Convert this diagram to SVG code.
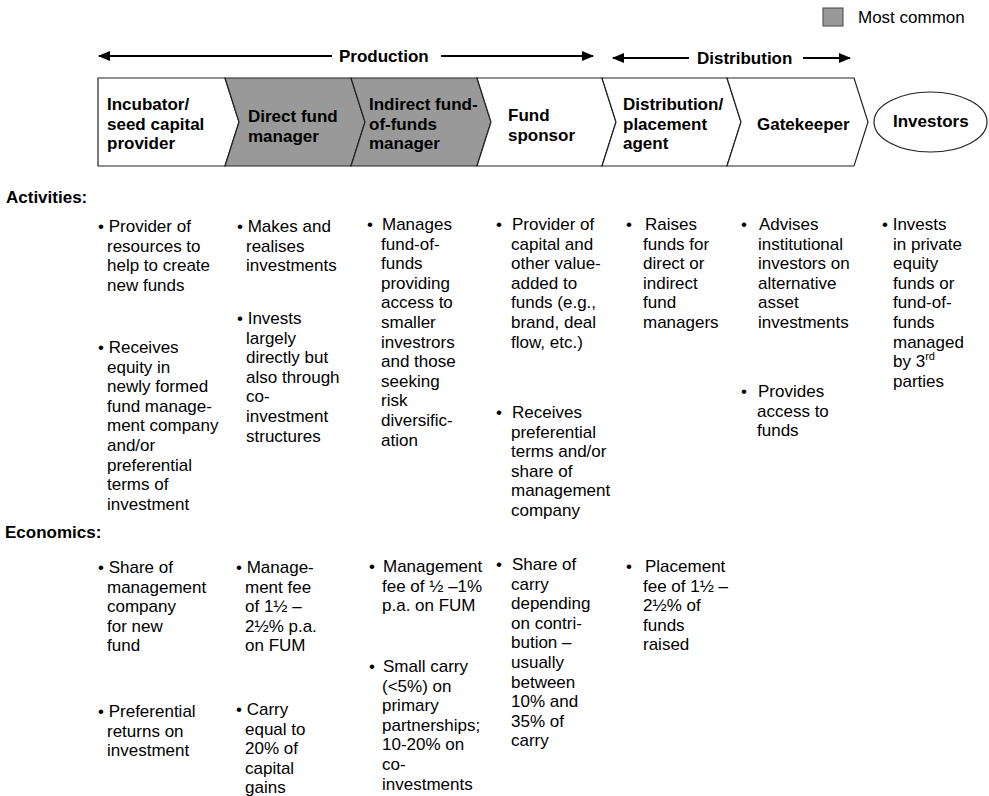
<svg xmlns="http://www.w3.org/2000/svg" width="989" height="796" viewBox="0 0 989 796">
  <style>
    .t { font-family: "Liberation Sans", Arial, sans-serif; font-size: 17px; fill: #000; }
    .b { font-weight: bold; }
    .sup { font-size: 11px; }
    .stage { stroke: #222; stroke-width: 1.2; stroke-linejoin: miter; }
    .plain { fill: #fff; }
    .common { fill: #999; }
    .axis { stroke: #000; stroke-width: 2; fill: none; }
  </style>
  <defs>
    <marker id="head" viewBox="0 0 12 10" refX="11" refY="5" markerWidth="12" markerHeight="10" markerUnits="userSpaceOnUse" orient="auto-start-reverse">
      <path d="M0,0 L12,5 L0,10 Z" fill="#000"/>
    </marker>
  </defs>

  <rect width="989" height="796" fill="#fff"/>

  <!-- legend -->
  <g id="legend">
    <rect x="823" y="8" width="20" height="18" class="common" stroke="#444" stroke-width="1"/>
    <text class="t" x="858" y="23">Most common</text>
  </g>

  <!-- phase arrows -->
  <g id="connectors">
    <line class="axis" x1="99" y1="56" x2="332" y2="56" marker-start="url(#head)"/>
    <line class="axis" x1="441" y1="56" x2="593" y2="56" marker-end="url(#head)"/>
    <line class="axis" x1="613" y1="58" x2="689" y2="58" marker-start="url(#head)"/>
    <line class="axis" x1="803" y1="58" x2="850" y2="58" marker-end="url(#head)"/>
  </g>
  <text class="t b" x="339" y="62">Production</text>
  <text class="t b" x="697" y="64">Distribution</text>

  <!-- value chain stages -->
  <g id="incubator">
    <path class="stage plain" d="M98,78 L225,78 L239,122 L225,166 L98,166 Z"/>
    <text class="t b"><tspan x="107" y="110">Incubator/</tspan><tspan x="107" y="129.5">seed capital</tspan><tspan x="107" y="149">provider</tspan></text>
  </g>
  <g id="direct-fund-manager">
    <path class="stage common" d="M225,78 L351,78 L365,122 L351,166 L225,166 L239,122 Z"/>
    <text class="t b"><tspan x="248" y="122">Direct fund</tspan><tspan x="248" y="141.5">manager</tspan></text>
  </g>
  <g id="indirect-fof-manager">
    <path class="stage common" d="M351,78 L477,78 L491,122 L477,166 L351,166 L365,122 Z"/>
    <text class="t b"><tspan x="369" y="110">Indirect fund-</tspan><tspan x="369" y="129.5">of-funds</tspan><tspan x="369" y="149">manager</tspan></text>
  </g>
  <g id="fund-sponsor">
    <path class="stage plain" d="M477,78 L602,78 L616,122 L602,166 L477,166 L491,122 Z"/>
    <text class="t b"><tspan x="508" y="121">Fund</tspan><tspan x="508" y="140.5">sponsor</tspan></text>
  </g>
  <g id="placement-agent">
    <path class="stage plain" d="M602,78 L727,78 L741,122 L727,166 L602,166 L616,122 Z"/>
    <text class="t b"><tspan x="623" y="110">Distribution/</tspan><tspan x="623" y="129.5">placement</tspan><tspan x="623" y="149">agent</tspan></text>
  </g>
  <g id="gatekeeper">
    <path class="stage plain" d="M727,78 L854,78 L868,122 L854,166 L727,166 L741,122 Z"/>
    <text class="t b" x="757" y="130">Gatekeeper</text>
  </g>
  <g id="investors">
    <ellipse class="stage plain" cx="930.5" cy="122" rx="56.5" ry="30"/>
    <text class="t b" x="893" y="127">Investors</text>
  </g>

  <!-- row headings -->
  <text class="t b" x="6" y="203">Activities:</text>
  <text class="t b" x="5" y="538">Economics:</text>

  <!-- activities -->
  <g id="activities">
    <text class="t"><tspan x="98" y="232">• Provider of</tspan><tspan x="107" dy="19.6">resources to</tspan><tspan x="107" dy="19.6">help to create</tspan><tspan x="107" dy="19.6">new funds</tspan></text>
    <text class="t"><tspan x="98" y="353">• Receives</tspan><tspan x="107" dy="19.6">equity in</tspan><tspan x="107" dy="19.6">newly formed</tspan><tspan x="107" dy="19.6">fund manage-</tspan><tspan x="107" dy="19.6">ment company</tspan><tspan x="107" dy="19.6">and/or</tspan><tspan x="107" dy="19.6">preferential</tspan><tspan x="107" dy="19.6">terms of</tspan><tspan x="107" dy="19.6">investment</tspan></text>

    <text class="t"><tspan x="237" y="232">• Makes and</tspan><tspan x="246" dy="19.6">realises</tspan><tspan x="246" dy="19.6">investments</tspan></text>
    <text class="t"><tspan x="237" y="324">• Invests</tspan><tspan x="246" dy="19.6">largely</tspan><tspan x="246" dy="19.6">directly but</tspan><tspan x="246" dy="19.6">also through</tspan><tspan x="246" dy="19.6">co-</tspan><tspan x="246" dy="19.6">investment</tspan><tspan x="246" dy="19.6">structures</tspan></text>

    <text class="t" x="367" y="230">•</text>
    <text class="t"><tspan x="382" y="230">Manages</tspan><tspan x="381" dy="19.6">fund-of-</tspan><tspan x="381" dy="19.6">funds</tspan><tspan x="381" dy="19.6">providing</tspan><tspan x="381" dy="19.6">access to</tspan><tspan x="381" dy="19.6">smaller</tspan><tspan x="381" dy="19.6">investrors</tspan><tspan x="381" dy="19.6">and those</tspan><tspan x="381" dy="19.6">seeking</tspan><tspan x="381" dy="19.6">risk</tspan><tspan x="381" dy="19.6">diversific-</tspan><tspan x="381" dy="19.6">ation</tspan></text>

    <text class="t" x="496" y="230">•</text>
    <text class="t"><tspan x="512" y="230">Provider of</tspan><tspan x="511" dy="19.6">capital and</tspan><tspan x="511" dy="19.6">other value-</tspan><tspan x="511" dy="19.6">added to</tspan><tspan x="511" dy="19.6">funds (e.g.,</tspan><tspan x="511" dy="19.6">brand, deal</tspan><tspan x="511" dy="19.6">flow, etc.)</tspan></text>
    <text class="t" x="496" y="418">•</text>
    <text class="t"><tspan x="512" y="418">Receives</tspan><tspan x="511" dy="19.6">preferential</tspan><tspan x="511" dy="19.6">terms and/or</tspan><tspan x="511" dy="19.6">share of</tspan><tspan x="511" dy="19.6">management</tspan><tspan x="511" dy="19.6">company</tspan></text>

    <text class="t" x="626" y="230">•</text>
    <text class="t"><tspan x="645" y="230">Raises</tspan><tspan x="643" dy="19.6">funds for</tspan><tspan x="643" dy="19.6">direct or</tspan><tspan x="643" dy="19.6">indirect</tspan><tspan x="643" dy="19.6">fund</tspan><tspan x="643" dy="19.6">managers</tspan></text>

    <text class="t" x="741" y="230">•</text>
    <text class="t"><tspan x="759" y="230">Advises</tspan><tspan x="758" dy="19.6">institutional</tspan><tspan x="758" dy="19.6">investors on</tspan><tspan x="758" dy="19.6">alternative</tspan><tspan x="758" dy="19.6">asset</tspan><tspan x="758" dy="19.6">investments</tspan></text>
    <text class="t" x="741" y="397">•</text>
    <text class="t"><tspan x="758" y="397">Provides</tspan><tspan x="757" dy="19.6">access to</tspan><tspan x="757" dy="19.6">funds</tspan></text>

    <text class="t"><tspan x="882" y="230">• Invests</tspan><tspan x="893" dy="19.6">in private</tspan><tspan x="893" dy="19.6">equity</tspan><tspan x="893" dy="19.6">funds or</tspan><tspan x="893" dy="19.6">fund-of-</tspan><tspan x="893" dy="19.6">funds</tspan><tspan x="893" dy="19.6">managed</tspan><tspan x="893" dy="19.6">by 3</tspan><tspan class="sup" dy="-7">rd</tspan><tspan x="893" dy="26.6">parties</tspan></text>
  </g>

  <!-- economics -->
  <g id="economics">
    <text class="t"><tspan x="98" y="573">• Share of</tspan><tspan x="107" dy="19.6">management</tspan><tspan x="107" dy="19.6">company</tspan><tspan x="107" dy="19.6">for new</tspan><tspan x="107" dy="19.6">fund</tspan></text>
    <text class="t"><tspan x="98" y="717">• Preferential</tspan><tspan x="107" dy="19.6">returns on</tspan><tspan x="107" dy="19.6">investment</tspan></text>

    <text class="t"><tspan x="236" y="573">• Manage-</tspan><tspan x="245" dy="19.6">ment fee</tspan><tspan x="245" dy="19.6">of 1½ –</tspan><tspan x="245" dy="19.6">2½% p.a.</tspan><tspan x="245" dy="19.6">on FUM</tspan></text>
    <text class="t"><tspan x="236" y="715">• Carry</tspan><tspan x="245" dy="19.6">equal to</tspan><tspan x="245" dy="19.6">20% of</tspan><tspan x="245" dy="19.6">capital</tspan><tspan x="245" dy="19.6">gains</tspan></text>

    <text class="t" x="369" y="572">•</text>
    <text class="t"><tspan x="383" y="572">Management</tspan><tspan x="382" dy="19.6">fee of ½ –1%</tspan><tspan x="382" dy="19.6">p.a. on FUM</tspan></text>
    <text class="t" x="369" y="672">•</text>
    <text class="t"><tspan x="383" y="672">Small carry</tspan><tspan x="382" dy="19.6">(&lt;5%) on</tspan><tspan x="382" dy="19.6">primary</tspan><tspan x="382" dy="19.6">partnerships;</tspan><tspan x="382" dy="19.6">10-20% on</tspan><tspan x="382" dy="19.6">co-</tspan><tspan x="382" dy="19.6">investments</tspan></text>

    <text class="t" x="496" y="570">•</text>
    <text class="t"><tspan x="512" y="570">Share of</tspan><tspan x="511" dy="19.6">carry</tspan><tspan x="511" dy="19.6">depending</tspan><tspan x="511" dy="19.6">on contri-</tspan><tspan x="511" dy="19.6">bution –</tspan><tspan x="511" dy="19.6">usually</tspan><tspan x="511" dy="19.6">between</tspan><tspan x="511" dy="19.6">10% and</tspan><tspan x="511" dy="19.6">35% of</tspan><tspan x="511" dy="19.6">carry</tspan></text>

    <text class="t" x="626" y="572">•</text>
    <text class="t"><tspan x="645" y="572">Placement</tspan><tspan x="643" dy="19.6">fee of 1½ –</tspan><tspan x="643" dy="19.6">2½% of</tspan><tspan x="643" dy="19.6">funds</tspan><tspan x="643" dy="19.6">raised</tspan></text>
  </g>
</svg>
